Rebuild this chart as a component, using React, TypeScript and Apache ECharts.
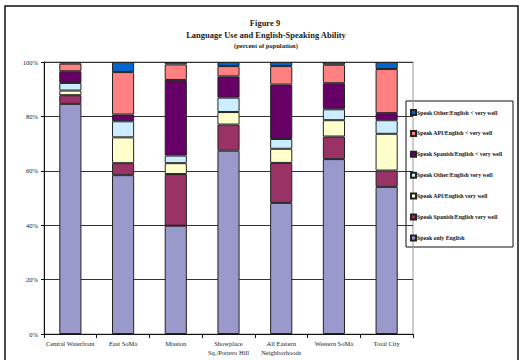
import React, { useEffect, useRef } from "react";
import * as echarts from "echarts";

const categories = [
  "Central Waterfront",
  "East SoMa",
  "Mission",
  "Showplace\nSq./Potrero Hill",
  "All Eastern\nNeighborhoods",
  "Western SoMa",
  "Total City",
];

const onlyEnglish = [84.6, 58.4, 39.8, 67.4, 48.2, 64.3, 54.1];
const spanishWell = [3.2, 4.4, 19.0, 9.6, 14.7, 8.3, 6.0];
const apiWell = [1.7, 9.5, 4.0, 4.6, 5.2, 6.0, 13.5];
const otherWell = [2.8, 5.9, 2.8, 5.3, 3.6, 4.0, 5.0];
const spanishLess = [4.3, 2.5, 27.8, 7.8, 20.0, 9.6, 2.6];
const apiLess = [2.8, 15.6, 5.7, 3.8, 6.8, 6.8, 16.2];
const otherLess = [0.6, 3.7, 0.9, 1.5, 1.5, 1.0, 2.6];

const seriesNames = [
  "Speak only English",
  "Speak Spanish/English very well",
  "Speak API/English very well",
  "Speak Other/English very well",
  "Speak Spanish/English < very well",
  "Speak API/English < very well",
  "Speak Other/English < very well",
];
const seriesData = [onlyEnglish, spanishWell, apiWell, otherWell, spanishLess, apiLess, otherLess];
const seriesColors = ["#9999CC", "#993366", "#FFFFCC", "#CCECFF", "#660066", "#FF8080", "#0066CC"];

const yTicks = [0, 20, 40, 60, 80, 100];

const FONT = "'Liberation Serif', 'DejaVu Serif', serif";

export default function App() {
  const ref = useRef<HTMLDivElement>(null);
  useEffect(() => {
    if (!ref.current) return;
    const chart = echarts.init(ref.current, undefined, { renderer: "svg" });
    chart.setOption({
      animation: false,
      backgroundColor: "#fff",
      textStyle: { fontFamily: FONT },
      grid: {
        left: 44,
        right: 113,
        top: 62,
        bottom: 26,
        show: true,
        borderColor: "#999",
        borderWidth: 1,
      },
      legend: {
        orient: "vertical",
        left: 405,
        top: 104,
        itemWidth: 5,
        itemHeight: 5,
        itemGap: 13.9,
        icon: "rect",
        data: [...seriesNames].reverse(),
        textStyle: {
          fontFamily: FONT,
          fontSize: 5.8,
          fontWeight: "bold",
          color: "#111",
          padding: [0, 0, 0, -4],
          lineHeight: 6,
        },
      },
      xAxis: {
        type: "category",
        data: categories,
        axisLine: { lineStyle: { color: "#111", width: 1 } },
        axisTick: { show: true, alignWithLabel: false, length: 4, lineStyle: { color: "#111" } },
        axisLabel: {
          fontFamily: FONT,
          fontSize: 6.5,
          color: "#222",
          margin: 5,
          lineHeight: 9,
          interval: 0,
        },
      },
      yAxis: {
        type: "value",
        min: 0,
        max: 100,
        interval: 20,
        axisLine: { show: true, lineStyle: { color: "#111", width: 1 } },
        axisTick: { show: true, length: 3, lineStyle: { color: "#111" } },
        axisLabel: {
          fontFamily: FONT,
          fontSize: 6.5,
          color: "#222",
          margin: 6,
          formatter: (v: number) => (yTicks.includes(v) ? v + "%" : ""),
        },
        splitLine: { show: true, lineStyle: { color: "#333", width: 1 } },
      },
      series: seriesNames.map((name, i) => ({
        name,
        type: "bar",
        stack: "total",
        barWidth: "42%",
        data: seriesData[i],
        itemStyle: { color: seriesColors[i], borderColor: "#222", borderWidth: 1 },
      })),
      graphic: [
        {
          type: "rect",
          shape: { x: 5, y: 6, width: 513, height: 360 },
          style: { fill: "none", stroke: "#111", lineWidth: 1.5 },
          silent: true,
        },
        {
          type: "rect",
          shape: { x: 406, y: 101, width: 107, height: 146 },
          style: { fill: "#fff", stroke: "#111", lineWidth: 1 },
          silent: true,
          z: -1,
          zlevel: 0,
        },
        {
          type: "text",
          x: 265,
          y: 23,
          style: {
            text: "Figure 9",
            fontFamily: FONT,
            fontSize: 8.5,
            fontWeight: "bold",
            fill: "#222",
            align: "center",
            verticalAlign: "middle",
          },
        },
        {
          type: "text",
          x: 266,
          y: 35,
          style: {
            text: "Language Use and English-Speaking Ability",
            fontFamily: FONT,
            fontSize: 8.5,
            fontWeight: "bold",
            fill: "#222",
            align: "center",
            verticalAlign: "middle",
          },
        },
        {
          type: "text",
          x: 266,
          y: 45,
          style: {
            text: "(percent of population)",
            fontFamily: FONT,
            fontSize: 6.5,
            fontWeight: "bold",
            fill: "#222",
            align: "center",
            verticalAlign: "middle",
          },
        },
      ],
    });
    return () => chart.dispose();
  }, []);
  return (
    <div
      ref={ref}
      style={{ position: "fixed", left: 0, top: 0, width: 526, height: 360 }}
    />
  );
}
